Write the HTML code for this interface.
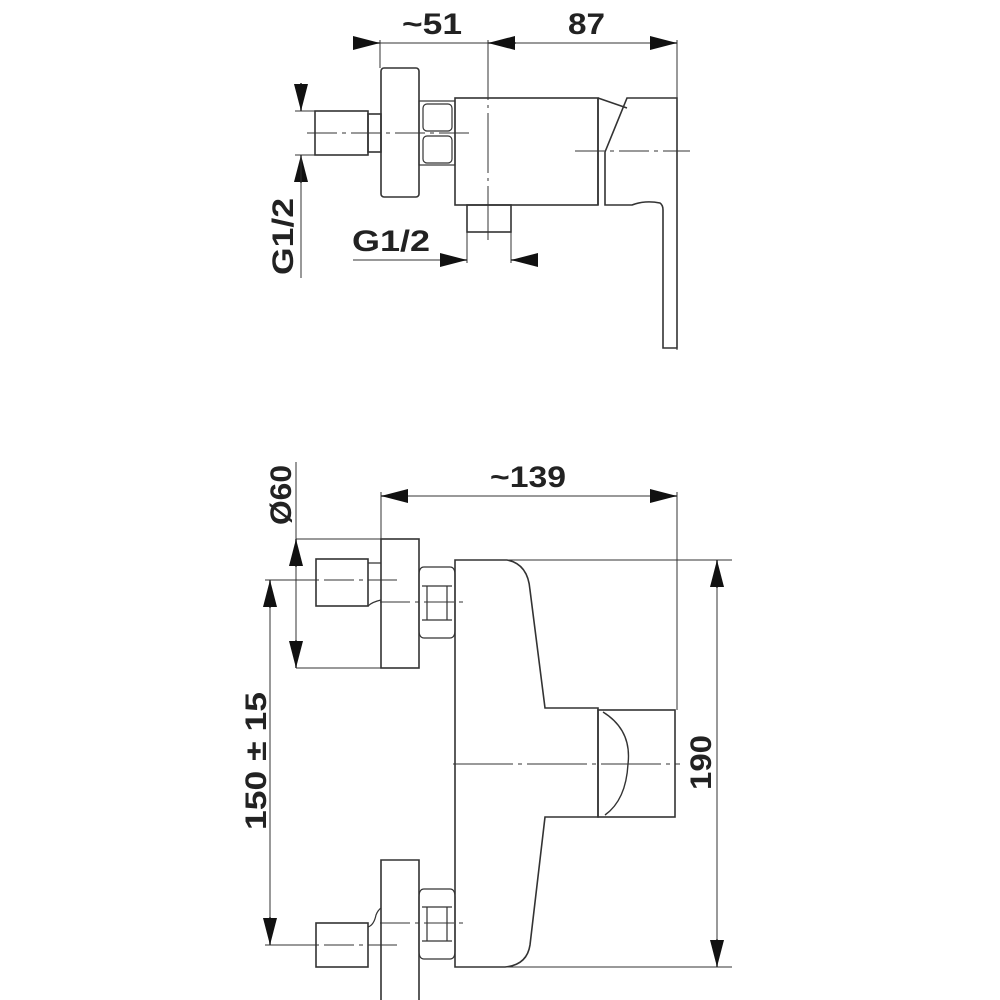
<!DOCTYPE html>
<html><head><meta charset="utf-8"><style>
html,body{margin:0;padding:0;background:#fff}
svg{display:block}
text{font-family:"Liberation Sans",sans-serif;font-weight:bold;fill:#222;font-size:30px}
</style></head><body>
<svg width="1000" height="1000" viewBox="0 0 1000 1000" xmlns="http://www.w3.org/2000/svg">
<defs>
<marker id="a" viewBox="0 0 20 10" refX="20" refY="5" markerWidth="27" markerHeight="14" markerUnits="userSpaceOnUse" orient="auto-start-reverse" preserveAspectRatio="none"><path d="M0,0L20,5L0,10z" fill="#111"/></marker>
</defs>
<g fill="none" stroke="#333" stroke-width="1.6">
<!-- ===== TOP VIEW ===== -->
<line x1="353" y1="43" x2="380" y2="43" marker-end="url(#a)"/>
<line x1="380" y1="43" x2="677" y2="43" stroke-width="1"/>
<line x1="516" y1="43" x2="488" y2="43" marker-end="url(#a)"/>
<line x1="650" y1="43" x2="677" y2="43" marker-end="url(#a)"/>
<line x1="380" y1="40" x2="380" y2="68" stroke-width="1"/>
<line x1="677" y1="40" x2="677" y2="350" stroke-width="1"/>
<line x1="488" y1="40" x2="488" y2="240" stroke-width="1" stroke-dasharray="60 5 3 5"/>
<rect x="315" y="111" width="53" height="44"/>
<rect x="368" y="114" width="13" height="38"/>
<rect x="381" y="68" width="38" height="129" rx="3"/>
<rect x="419" y="101" width="36" height="64" stroke-width="1.2"/>
<rect x="423" y="104" width="29" height="27" rx="4" stroke-width="1.2"/>
<rect x="423" y="136" width="29" height="27" rx="4" stroke-width="1.2"/>
<rect x="455" y="98" width="143" height="107"/>
<path d="M598,98 V205 M605,152 V205 H632 Q645,200 660,203 Q663,205 663,210 V348 H677 V98 H627 L605,152 M598,98 L627,108"/>
<line x1="307" y1="133" x2="470" y2="133" stroke-width="1" stroke-dasharray="30 5 4 5"/>
<line x1="575" y1="151" x2="690" y2="151" stroke-width="1" stroke-dasharray="30 5 4 5"/>
<rect x="467" y="205" width="44" height="27"/>
<line x1="467" y1="232" x2="467" y2="263" stroke-width="1"/>
<line x1="511" y1="232" x2="511" y2="263" stroke-width="1"/>
<line x1="353" y1="260" x2="467" y2="260" stroke-width="1"/>
<line x1="440" y1="260" x2="467" y2="260" marker-end="url(#a)"/>
<line x1="538" y1="260" x2="511" y2="260" marker-end="url(#a)"/>
<line x1="301" y1="83" x2="301" y2="111" marker-end="url(#a)"/>
<line x1="301" y1="183" x2="301" y2="155" marker-end="url(#a)"/>
<line x1="301" y1="155" x2="301" y2="278" stroke-width="1"/>
<line x1="295" y1="111" x2="315" y2="111" stroke-width="1"/>
<line x1="295" y1="155" x2="315" y2="155" stroke-width="1"/>

<!-- ===== BOTTOM VIEW ===== -->
<line x1="381" y1="496" x2="677" y2="496" stroke-width="1"/>
<line x1="408" y1="496" x2="381" y2="496" marker-end="url(#a)"/>
<line x1="650" y1="496" x2="677" y2="496" marker-end="url(#a)"/>
<line x1="381" y1="492" x2="381" y2="539" stroke-width="1"/>
<line x1="677" y1="492" x2="677" y2="710" stroke-width="1"/>
<line x1="296" y1="462" x2="296" y2="668" stroke-width="1"/>
<line x1="296" y1="567" x2="296" y2="539" marker-end="url(#a)"/>
<line x1="296" y1="640" x2="296" y2="668" marker-end="url(#a)"/>
<line x1="296" y1="539" x2="381" y2="539" stroke-width="1"/>
<line x1="296" y1="668" x2="381" y2="668" stroke-width="1"/>
<rect x="381" y="539" width="38" height="129"/>
<rect x="316" y="559" width="52" height="47"/>
<path d="M368,563 H381 M368,606 Q372,602 381,600" stroke-width="1.2"/>
<path d="M424,567 H450 Q455,567 455,575 V630 Q455,638 450,638 H424 Q419,638 419,630 V575 Q419,567 424,567 Z" stroke-width="1.2"/>
<path d="M422,586 H452 M422,620 H452 M427,586 V620 M447,586 V620" stroke-width="1.2"/>
<line x1="280" y1="580" x2="397" y2="580" stroke-width="1" stroke-dasharray="30 5 4 5"/>
<line x1="380" y1="602" x2="465" y2="602" stroke-width="1" stroke-dasharray="30 5 4 5"/>
<path d="M455,560 H507 Q528,564 530,590 L545,708 H598 V817 H545 L530,945 Q527,965 505,967 H455 Z"/>
<rect x="598" y="710" width="77" height="107"/>
<path d="M603,712 Q632,730 628,764 Q626,800 605,815" stroke-width="1.4"/>
<line x1="507" y1="560" x2="732" y2="560" stroke-width="1"/>
<line x1="505" y1="967" x2="732" y2="967" stroke-width="1"/>
<line x1="453" y1="764" x2="680" y2="764" stroke-width="1" stroke-dasharray="60 5 4 5"/>
<line x1="717" y1="560" x2="717" y2="967" stroke-width="1"/>
<line x1="717" y1="588" x2="717" y2="560" marker-end="url(#a)"/>
<line x1="717" y1="939" x2="717" y2="967" marker-end="url(#a)"/>
<path d="M381,1000 V860 H419 V1000"/>
<rect x="316" y="923" width="52" height="44"/>
<path d="M368,927 Q374,925 376,915 Q378,910 381,908" stroke-width="1.2"/>
<path d="M424,889 H450 Q455,889 455,897 V951 Q455,959 450,959 H424 Q419,959 419,951 V897 Q419,889 424,889 Z" stroke-width="1.2"/>
<path d="M422,907 H452 M422,941 H452 M427,907 V941 M447,907 V941" stroke-width="1.2"/>
<line x1="280" y1="945" x2="397" y2="945" stroke-width="1" stroke-dasharray="30 5 4 5"/>
<line x1="380" y1="923" x2="465" y2="923" stroke-width="1" stroke-dasharray="30 5 4 5"/>
<line x1="270" y1="580" x2="270" y2="945" stroke-width="1"/>
<line x1="270" y1="608" x2="270" y2="580" marker-end="url(#a)"/>
<line x1="270" y1="917" x2="270" y2="945" marker-end="url(#a)"/>
<line x1="265" y1="580" x2="316" y2="580" stroke-width="1"/>
<line x1="265" y1="945" x2="316" y2="945" stroke-width="1"/>
</g>
<g>
<text x="402" y="34" textLength="60" lengthAdjust="spacingAndGlyphs">~51</text>
<text x="568" y="34" textLength="37" lengthAdjust="spacingAndGlyphs">87</text>
<text x="352" y="251" textLength="78" lengthAdjust="spacingAndGlyphs">G1/2</text>
<text transform="translate(293,275) rotate(-90)" textLength="77" lengthAdjust="spacingAndGlyphs">G1/2</text>
<text x="490" y="487" textLength="76" lengthAdjust="spacingAndGlyphs">~139</text>
<text transform="translate(291,525) rotate(-90)" textLength="60" lengthAdjust="spacingAndGlyphs">Ø60</text>
<text transform="translate(266,830) rotate(-90)" textLength="138" lengthAdjust="spacingAndGlyphs">150 ± 15</text>
<text transform="translate(711,790) rotate(-90)" textLength="55" lengthAdjust="spacingAndGlyphs">190</text>
</g>
</svg>
</body></html>
